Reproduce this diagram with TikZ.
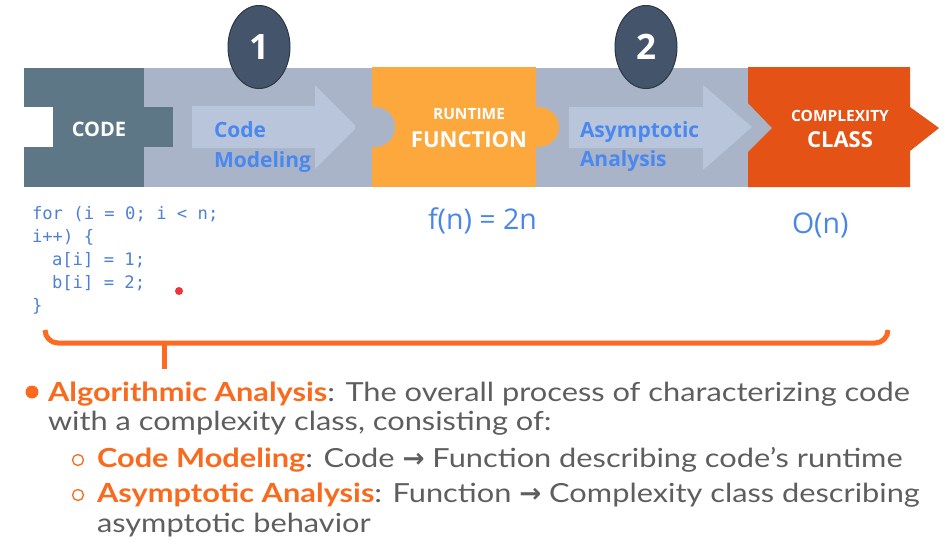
\documentclass[tikz,border=0pt]{standalone}
\usepackage{fontspec}
\setmainfont{Open Sans}
\newfontfamily\bandfont{Open Sans}
\newfontfamily\bodyfont[FakeStretch=1.17]{Lato}
\newfontfamily\codefont{DejaVu Sans Mono}
\newfontfamily\symfont{DejaVu Sans}
\usetikzlibrary{shapes.geometric}

\definecolor{bandgrey}{HTML}{A9B4C8}
\definecolor{arrowfill}{HTML}{B8C5DA}
\definecolor{codeslate}{HTML}{5E7787}
\definecolor{badge}{HTML}{44546A}
\definecolor{badgeline}{HTML}{2C3745}
\definecolor{runorange}{HTML}{FDA83D}
\definecolor{classred}{HTML}{E45215}
\definecolor{stepblue}{HTML}{4A88F0}
\definecolor{codeblue}{HTML}{4D80D6}
\definecolor{mathblue}{HTML}{4A86E8}
\definecolor{brace}{HTML}{FF6A22}
\definecolor{bodygrey}{HTML}{5E5E5E}
\definecolor{keyorange}{HTML}{F96A1E}
\definecolor{dotred}{HTML}{F0333A}

\newcommand\keyterm[1]{{\color{keyorange}\bfseries #1}}
\newcommand\thinarrow{{\symfont\bfseries →}}

\tikzset{
  lbl/.style={inner sep=0pt, outer sep=0pt},
  bandtxt/.style={lbl, text=white},
  steptxt/.style={lbl, text=stepblue, anchor=base west,
    font=\bandfont\bfseries\fontsize{21}{25}\selectfont},
  badgenode/.style={ellipse, inner sep=0pt, minimum width=62pt, minimum height=83pt,
    fill=badge, draw=badgeline, line width=1pt, text=white,
    font=\bandfont\bfseries\fontsize{35}{40}\selectfont},
  codetxt/.style={lbl, text=codeblue, anchor=base west,
    font=\codefont\fontsize{17.2}{20}\selectfont},
  mathtxt/.style={lbl, text=mathblue, anchor=base west,
    font=\bandfont\fontsize{28.5}{32}\selectfont},
  bodytxt/.style={lbl, text=bodygrey, anchor=base west,
    font=\bodyfont\fontsize{26.3}{30}\selectfont},
  bracket/.style={draw=brace, line width=5pt},
  hollowbullet/.style={circle, draw=keyorange, line width=1.3pt, minimum size=11pt, inner sep=0pt},
}

\begin{document}
\begin{tikzpicture}[x=1pt, y=-1pt]
\useasboundingbox (0,0) rectangle (946,555);

% ---- process band ----
\fill[bandgrey] (144,68) rectangle (772,187);

% CODE puzzle piece: notch on the left, tab on the right
\fill[codeslate] (24,68) rectangle (144,187);
\fill[codeslate] (144,107) rectangle (173,147);
\fill[white] (24,107) rectangle (53,147);

% step arrows
\fill[arrowfill] (192,106) -- (315,106) -- (315,85) -- (357,127) -- (315,169)
  -- (315,148) -- (192,148) -- cycle;
\fill[arrowfill] (569,107) -- (703,107) -- (703,85) -- (752,127) -- (703,170)
  -- (703,148) -- (569,148) -- cycle;

% RUNTIME FUNCTION piece with round notch and round tab
\fill[runorange] (372,67) rectangle (536,187);
\fill[bandgrey] (372,107) rectangle (375,147);
\fill[bandgrey] (375,127) ellipse [x radius=20pt, y radius=20pt];
\fill[runorange] (538,127) ellipse [x radius=21pt, y radius=20pt];

% COMPLEXITY CLASS chevron
\fill[classred] (748,67) -- (910,67) -- (910,107) -- (939,128) -- (910,151)
  -- (910,187) -- (748,187) -- (748,152) -- (772,128) -- (748,103) -- cycle;

% band labels
\node[bandtxt, anchor=base, font=\bandfont\bfseries\fontsize{20}{24}\selectfont]
  (code) at (99,136) {CODE};
\node[steptxt] (cm1) at (214,137) {Code};
\node[steptxt] (cm2) at (214,167) {Modeling};
\node[bandtxt, anchor=base, font=\bandfont\bfseries\fontsize{15.5}{18}\selectfont]
  (rt1) at (469,119) {RUNTIME};
\node[bandtxt, anchor=base, font=\bandfont\bfseries\fontsize{22}{26}\selectfont]
  (rt2) at (469,147) {FUNCTION};
\node[steptxt] (aa1) at (580,137) {Asymptotic};
\node[steptxt] (aa2) at (580,166) {Analysis};
\node[bandtxt, anchor=base, font=\bandfont\bfseries\fontsize{15.5}{18}\selectfont]
  (cc1) at (840,121) {COMPLEXITY};
\node[bandtxt, anchor=base, font=\bandfont\bfseries\fontsize{22}{26}\selectfont]
  (cc2) at (840,147) {CLASS};

% step badges
\node[badgenode] (one) at (259,47) {1};
\node[badgenode] (two) at (646,47) {2};

% ---- example ----
\node[codetxt] (src1) at (32,219) {for (i = 0; i < n;};
\node[codetxt] (src2) at (32,242) {i++) \{};
\node[codetxt] (src3) at (52,265) {a[i] = 1;};
\node[codetxt] (src4) at (52,288) {b[i] = 2;};
\node[codetxt] (src5) at (32,311) {\}};
\node[circle, fill=dotred, inner sep=0pt, minimum size=8pt] (pointer) at (179,291) {};

\node[mathtxt] (fn) at (428,229) {f(n) = 2n};
\node[mathtxt] (bigo) at (792,233) {O(n)};

% ---- bracket spanning the whole process ----
\coordinate (brl) at (45,330);
\coordinate (brr) at (888,330);
\coordinate (brmid) at (164,343);
\coordinate (stem) at (164,369);
\draw[bracket, rounded corners=13pt] (brl) -- (45,343) -- (888,343) -- (brr);
\draw[bracket] (brmid) -- (stem);

% ---- definition list ----
\node[circle, fill=keyorange, inner sep=0pt, minimum size=13pt] (dot) at (32,392) {};
\node[bodytxt] (def1) at (48,401)
  {\keyterm{Algorithmic Analysis}: The overall process of characterizing code};
\node[bodytxt] (def2) at (48,430) {with a complexity class, consisting of:};
\node[hollowbullet] (sub1) at (78,460) {};
\node[bodytxt] (def3) at (97,467)
  {\keyterm{Code Modeling}: Code \thinarrow{} Function describing code’s runtime};
\node[hollowbullet] (sub2) at (78,495) {};
\node[bodytxt] (def4) at (97,502)
  {\keyterm{Asymptotic Analysis}: Function \thinarrow{} Complexity class describing};
\node[bodytxt] (def5) at (97,532) {asymptotic behavior};
\end{tikzpicture}
\end{document}
